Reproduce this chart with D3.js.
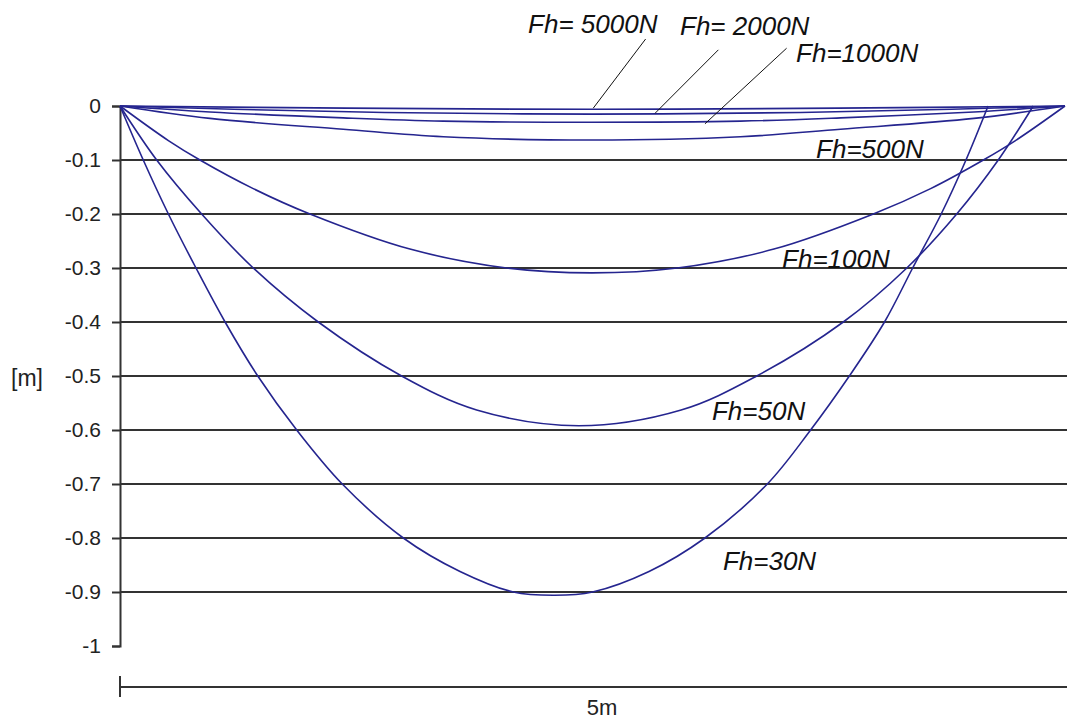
<!DOCTYPE html>
<html>
<head>
<meta charset="utf-8">
<script src="https://cdn.jsdelivr.net/npm/d3@7"></script>
<style>
  body { margin: 0; background: #fff; }
  svg { display: block; font-family: "Liberation Sans", Arial, sans-serif; }
  .fh-label { font-style: italic; font-size: 26px; fill: #111; }
  .tick text { font-size: 21px; fill: #222; }
</style>
</head>
<body>
<div id="chart"></div>
<script>
const width = 1067,
  height = 722,
  margin = { top: 106, bottom: 76, left: 120, right: 2 };

// [x along span in m, sag in m]
const fh30 = [[0, 0], [0.123, -0.1], [0.256, -0.2], [0.402, -0.3], [0.556, -0.4], [0.729, -0.5],
  [0.935, -0.6], [1.176, -0.7], [1.499, -0.8], [1.799, -0.862], [2.081, -0.9], [2.299, -0.906],
  [2.5, -0.9], [2.799, -0.862], [3.095, -0.8], [3.425, -0.7], [3.654, -0.6], [3.859, -0.5],
  [4.045, -0.4], [4.194, -0.3], [4.345, -0.2], [4.476, -0.1], [4.593, 0]];
const fh50 = [[0, 0], [0.194, -0.1], [0.432, -0.2], [0.705, -0.3], [1.049, -0.4], [1.49, -0.5],
  [1.887, -0.563], [2.428, -0.592], [2.969, -0.563], [3.369, -0.5], [3.827, -0.4], [4.163, -0.3],
  [4.427, -0.2], [4.647, -0.1], [4.832, 0]];
const fh100 = [[0, 0], [0.256, -0.064], [0.423, -0.1], [0.705, -0.153], [1.005, -0.2], [1.534, -0.265],
  [2.046, -0.3], [2.497, -0.309], [2.948, -0.3], [3.46, -0.265], [3.986, -0.2], [4.289, -0.153],
  [4.568, -0.1], [4.738, -0.064], [5, 0]];
const fh500 = [[0, 0], [0.476, -0.023], [1.181, -0.043], [1.711, -0.057], [2.497, -0.063],
  [3.283, -0.057], [3.813, -0.043], [4.518, -0.023], [5, 0]];
const fh1000 = [[0, 0], [0.476, -0.011], [1.181, -0.022], [1.711, -0.028], [2.497, -0.03],
  [3.283, -0.028], [3.813, -0.022], [4.518, -0.011], [5, 0]];
const fh2000 = [[0, 0], [0.6, -0.006], [1.4, -0.012], [2.5, -0.015], [3.6, -0.012], [4.4, -0.006], [5, 0]];
const fh5000 = [[0, 0], [1.2, -0.004], [2.5, -0.006], [3.8, -0.004], [5, 0]];

const series = [fh30, fh50, fh100, fh500, fh1000, fh2000, fh5000];

const yTicks = [0, -0.1, -0.2, -0.3, -0.4, -0.5, -0.6, -0.7, -0.8, -0.9, -1];
const yTickLabels = ["0", "-0.1", "-0.2", "-0.3", "-0.4", "-0.5", "-0.6", "-0.7", "-0.8", "-0.9", "-1"];

// label text, anchor [x m, y m]
const labelText = ["Fh= 5000N", "Fh= 2000N", "Fh=1000N", "Fh=500N", "Fh=100N", "Fh=50N", "Fh=30N"];
const labelPos = [[2.159, 0.135], [2.963, 0.131], [3.577, 0.081], [3.683, -0.096],
  [3.503, -0.3], [3.132, -0.581], [3.19, -0.859]];
// leader lines for the flat curves: [from, to]
const leaders = [
  [[2.781, 0.124], [2.504, -0.004]],
  [[3.166, 0.104], [2.831, -0.0135]],
  [[3.527, 0.107], [3.095, -0.033]]
];

const xScale = d3.scaleLinear().domain([0, 5]).range([margin.left, 1065]);
const yScale = d3.scaleLinear().domain([-1, 0]).range([height - margin.bottom, margin.top]);

const svg = d3.select("#chart")
  .append("svg")
  .attr("width", width)
  .attr("height", height);

svg.append("rect").attr("width", width).attr("height", height).attr("fill", "#fff");

// grid
svg.append("g")
  .selectAll("line")
  .data(yTicks.filter(d => d !== 0 && d !== -1))
  .join("line")
  .attr("x1", xScale(0))
  .attr("x2", width)
  .attr("y1", d => yScale(d))
  .attr("y2", d => yScale(d))
  .attr("stroke", "#333")
  .attr("stroke-width", 2);

// y axis
const yAxis = d3.axisLeft(yScale)
  .tickValues(yTicks)
  .tickFormat((d, i) => yTickLabels[i])
  .tickSize(8)
  .tickPadding(11);

const gy = svg.append("g")
  .attr("transform", `translate(${margin.left},0)`)
  .call(yAxis);
gy.select(".domain").attr("stroke", "#333").attr("stroke-width", 2);
gy.selectAll(".tick line").attr("stroke", "#333").attr("stroke-width", 2);
gy.selectAll(".tick text").attr("font-family", null).attr("font-size", null);

svg.append("text")
  .attr("x", 27)
  .attr("y", 386)
  .attr("text-anchor", "middle")
  .style("font-size", "23px")
  .attr("fill", "#222")
  .text("[m]");

// bottom span line
const spanY = 687;
svg.append("line")
  .attr("x1", xScale(0)).attr("x2", width)
  .attr("y1", spanY).attr("y2", spanY)
  .attr("stroke", "#333").attr("stroke-width", 2);
svg.append("line")
  .attr("x1", xScale(0)).attr("x2", xScale(0))
  .attr("y1", spanY - 11).attr("y2", spanY + 10)
  .attr("stroke", "#333").attr("stroke-width", 2);
svg.append("text")
  .attr("x", 602)
  .attr("y", 715)
  .attr("text-anchor", "middle")
  .style("font-size", "22px")
  .attr("fill", "#222")
  .text("5m");

// curves
const line = d3.line()
  .x(d => xScale(d[0]))
  .y(d => yScale(d[1]))
  .curve(d3.curveCatmullRom.alpha(0.5));

svg.append("g")
  .selectAll("path")
  .data(series)
  .join("path")
  .attr("d", line)
  .attr("fill", "none")
  .attr("stroke", "#25258f")
  .attr("stroke-width", 1.6);

// leaders
svg.append("g")
  .selectAll("line")
  .data(leaders)
  .join("line")
  .attr("x1", d => xScale(d[0][0]))
  .attr("y1", d => yScale(d[0][1]))
  .attr("x2", d => xScale(d[1][0]))
  .attr("y2", d => yScale(d[1][1]))
  .attr("stroke", "#111")
  .attr("stroke-width", 1);

svg.append("g")
  .selectAll("text")
  .data(labelText)
  .join("text")
  .attr("class", "fh-label")
  .attr("x", (d, i) => xScale(labelPos[i][0]))
  .attr("y", (d, i) => yScale(labelPos[i][1]))
  .text(d => d);
</script>
</body>
</html>
